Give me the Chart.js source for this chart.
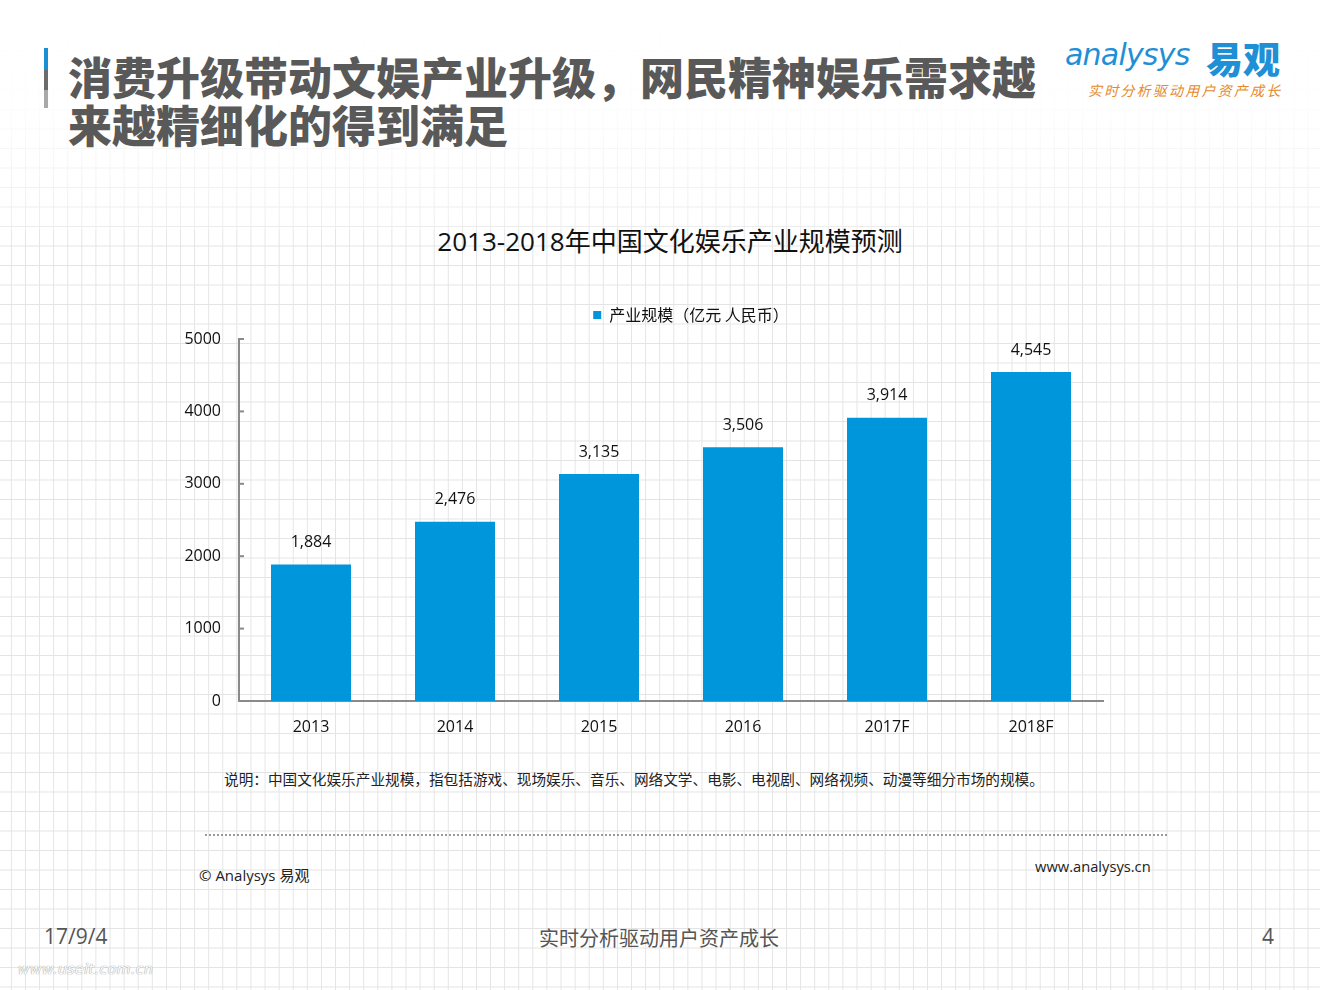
<!DOCTYPE html>
<html>
<head>
<meta charset="utf-8">
<script src="https://cdn.jsdelivr.net/npm/chart.js@4.4.1/dist/chart.umd.min.js"></script>
<style>
  html, body { margin:0; padding:0; }
  body {
    width:1320px; height:990px; position:relative; overflow:hidden;
    background-color:#fff;
    background-image:
      linear-gradient(to right, #e4e4e4 1px, transparent 1px),
      linear-gradient(to bottom, #e4e4e4 1px, transparent 1px);
    background-size:14.1px 19.5px, 14.1px 19.5px;
    background-position:10.9px 11.5px, 10.9px 11.5px;
    font-family:'Open Sans','Noto Sans CJK SC',sans-serif;
  }
  #fade { position:absolute; left:0; top:0; width:1320px; height:230px;
    background:linear-gradient(to bottom, rgba(255,255,255,1) 0%, rgba(255,255,255,0.92) 45%, rgba(255,255,255,0.3) 100%); }
  .abs { position:absolute; white-space:nowrap; }
  #bar1 { left:44px; top:48px; width:4px; height:22px; background:#1a8fd3; }
  #bar2 { left:44px; top:70px; width:4px; height:20px; background:#6b6b6b; }
  #bar3 { left:44px; top:90px; width:4px; height:18px; background:#a8a8a8; }
  #head { left:68px; top:52px; font-family:'Noto Sans CJK SC',sans-serif; font-weight:900; font-size:44px; line-height:48px; color:#595959; }
  #logo1 { left:1065px; top:37px; font-family:'DejaVu Sans','Open Sans',sans-serif; font-style:italic; font-size:30px; color:#1f8fd6; letter-spacing:-0.8px; }
  #logo2 { left:1206px; top:34px; font-family:'Noto Sans CJK SC',sans-serif; font-weight:900; font-size:37px; line-height:48px; color:#1f8fd6; }
  #logo3 { left:1088px; top:80px; font-family:'Noto Sans CJK SC',serif; font-size:14px; color:#e58a2a; letter-spacing:2.2px; font-style:italic; }
  #ctitle { left:0; width:1340px; top:221px; text-align:center; font-size:26px; color:#111; }
  #note { left:224px; top:768px; font-size:14.65px; color:#222; font-family:'Noto Sans CJK SC',sans-serif; }
  #dots { left:205px; top:834px; width:962px; height:0; border-top:2px dotted #9a9a9a; }
  #copy { left:199px; top:864px; font-size:15px; color:#222; }
  #www { left:1035px; top:856px; font-size:14.7px; color:#222; }
  #date { left:44px; top:922px; font-size:21px; color:#555; }
  #slogan { left:539px; top:923px; font-size:20px; color:#555; font-family:'Noto Sans CJK SC',sans-serif; }
  #page { left:1262px; top:922px; font-size:21px; color:#555; }
  #wm { left:18px; top:961px; font-size:14px; color:#fff; font-style:italic; letter-spacing:0.5px;
        text-shadow:0 0 1px #999, 0 0 1px #999; font-family:'DejaVu Sans',sans-serif; }
  #wrap { position:absolute; left:160px; top:290px; width:1062px; height:470px; }
</style>
</head>
<body>
<div id="fade"></div>
<div class="abs" id="bar1"></div><div class="abs" id="bar2"></div><div class="abs" id="bar3"></div>
<div class="abs" id="head">消费升级带动文娱产业升级，网民精神娱乐需求越<br>来越精细化的得到满足</div>
<div class="abs" id="logo1">analysys</div>
<div class="abs" id="logo2">易观</div>
<div class="abs" id="logo3">实时分析驱动用户资产成长</div>
<div class="abs" id="ctitle">2013-2018年中国文化娱乐产业规模预测</div>
<div id="wrap"><canvas id="c"></canvas></div>
<div class="abs" id="note">说明：中国文化娱乐产业规模，指包括游戏、现场娱乐、音乐、网络文学、电影、电视剧、网络视频、动漫等细分市场的规模。</div>
<div class="abs" id="dots"></div>
<div class="abs" id="copy">© Analysys 易观</div>
<div class="abs" id="www">www.analysys.cn</div>
<div class="abs" id="date">17/9/4</div>
<div class="abs" id="slogan">实时分析驱动用户资产成长</div>
<div class="abs" id="page">4</div>
<div class="abs" id="wm">www.useit.com.cn</div>
<script>
const categories = ['2013', '2014', '2015', '2016', '2017F', '2018F'];
const seriesName = '产业规模（亿元 人民币）';
const seriesValues = [1884, 2476, 3135, 3506, 3914, 4545];
const yTicks = [0, 1000, 2000, 3000, 4000, 5000];

const FONT = "'Open Sans','Noto Sans CJK SC',sans-serif";
const CJK = "'Noto Sans CJK SC','Open Sans',sans-serif";
const BAR = '#0096db';
const AXIS = '#8a8a8a';

const valueLabels = {
  id: 'valueLabels',
  afterDatasetsDraw(chart) {
    const ctx = chart.ctx;
    const meta = chart.getDatasetMeta(0);
    ctx.save();
    ctx.font = '16px ' + FONT;
    ctx.fillStyle = '#111';
    ctx.textAlign = 'center';
    ctx.textBaseline = 'middle';
    meta.data.forEach((el, i) => {
      ctx.fillText(seriesValues[i].toLocaleString('en-US'), el.x, el.y - 22);
    });
    ctx.restore();
  }
};
const innerTicks = {
  id: 'innerTicks',
  afterDraw(chart) {
    const ctx = chart.ctx;
    const y = chart.scales.y;
    ctx.save();
    ctx.strokeStyle = AXIS;
    ctx.lineWidth = 2;
    yTicks.forEach(v => {
      const py = y.getPixelForValue(v);
      ctx.beginPath();
      ctx.moveTo(y.right - 1, py);
      ctx.lineTo(y.right + 5, py);
      ctx.stroke();
    });
    ctx.restore();
  }
};
const legendShift = {
  id: 'legendShift',
  afterLayout(chart) {
    if (chart.legend) { chart.legend.top -= 6; chart.legend.bottom -= 6; }
  }
};

new Chart(document.getElementById('c'), {
  type: 'bar',
  data: {
    labels: categories,
    datasets: [{
      label: seriesName,
      data: seriesValues,
      backgroundColor: BAR,
      borderWidth: 0,
      categoryPercentage: 1,
      barPercentage: 80 / 144,
      yAxisID: 'y'
    }]
  },
  options: {
    responsive: true,
    maintainAspectRatio: false,
    animation: false,
    layout: { padding: { top: 13, left: 0, right: 0, bottom: 0 } },
    plugins: {
      legend: {
        display: true,
        position: 'top',
        labels: {
          boxWidth: 8, boxHeight: 8, padding: 10,
          color: '#111',
          font: { size: 16, family: CJK }
        }
      },
      tooltip: { enabled: false },
      title: { display: false }
    },
    scales: {
      x: {
        grid: { display: false, drawTicks: false },
        border: { display: true, color: AXIS, width: 2 },
        ticks: { color: '#111', font: { size: 16, family: FONT }, padding: 17 },
        afterFit: s => { s.height = 59; }
      },
      y: {
        min: 0, max: 5000,
        afterBuildTicks: s => { s.ticks = yTicks.map(v => ({ value: v })); },
        grid: { display: false, drawTicks: false },
        border: { display: true, color: AXIS, width: 2 },
        ticks: { color: '#111', font: { size: 16, family: FONT }, padding: 18, callback: v => String(v) },
        afterFit: s => { s.width = 79; }
      },
      y2: {
        position: 'right',
        display: true,
        grid: { display: false, drawTicks: false },
        border: { display: false },
        ticks: { display: false },
        afterFit: s => { s.width = 119; }
      }
    }
  },
  plugins: [valueLabels, innerTicks, legendShift]
});
</script>
</body>
</html>
